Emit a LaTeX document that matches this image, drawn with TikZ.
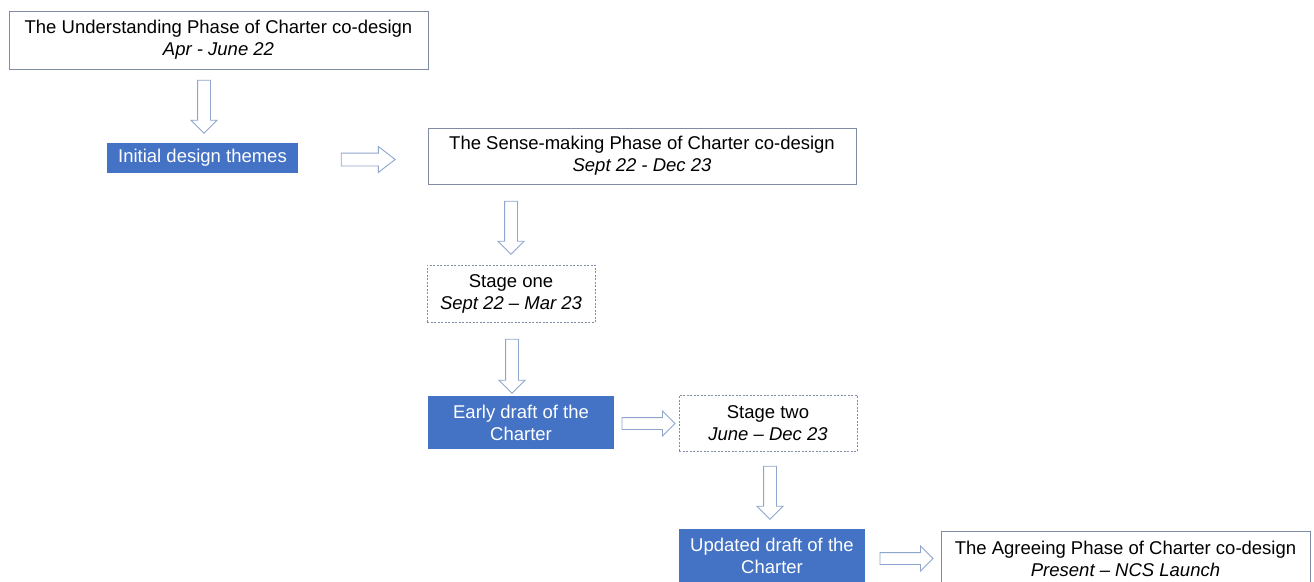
\documentclass[tikz,border=0pt]{standalone}
\usepackage{fontspec}
\setmainfont{Liberation Sans}
\usetikzlibrary{shapes.arrows}
\definecolor{boxblue}{HTML}{4472C4}
\definecolor{edgegray}{HTML}{7F8CA3}
\definecolor{arrowblue}{HTML}{8FA6CC}
\tikzset{
  txt/.style={font=\fontsize{18.5}{22}\selectfont, align=center, inner sep=0pt},
  phasebox/.style={txt, draw=edgegray, line width=0.9pt, fill=white},
  stagebox/.style={txt, draw=edgegray, line width=0.8pt, dash pattern=on 2pt off 1.5pt, fill=white},
  bluebox/.style={txt, fill=boxblue, text=white},
  blockarrow/.style={single arrow, draw=arrowblue, line width=0.9pt, fill=white,
    inner xsep=0pt, inner ysep=6pt, single arrow head extend=6.5pt,
    single arrow tip angle=90, single arrow head indent=0pt, minimum height=53pt},
  downarrow/.style={blockarrow, rotate=-90},
}
\begin{document}
\begin{tikzpicture}[x=1pt,y=-1pt]
\clip (0,0) rectangle (1314,581);
\useasboundingbox (0,0) rectangle (1314,581);
\fill[white] (0,0) rectangle (1314,581);

\node[phasebox, minimum width=419pt, minimum height=58pt] (b1) at (218.5,40)
  {The Understanding Phase of Charter co-design\\\textit{Apr - June 22}};
\node[bluebox, minimum width=191pt, minimum height=30pt] (init) at (202.5,158)
  {Initial design themes};
\node[phasebox, minimum width=428pt, minimum height=56pt] (b2) at (642,156)
  {The Sense-making Phase of Charter co-design\\\textit{Sept 22 - Dec 23}};
\node[stagebox, minimum width=168pt, minimum height=57pt] (s1) at (511,293.5)
  {Stage one\\\textit{Sept 22 – Mar 23}};
\node[bluebox, minimum width=186pt, minimum height=53pt] (early) at (521,422.5)
  {Early draft of the\\Charter};
\node[stagebox, minimum width=178pt, minimum height=56pt] (s2) at (768,423)
  {Stage two\\\textit{June – Dec 23}};
\node[bluebox, minimum width=186pt, minimum height=54pt] (upd) at (772,556)
  {Updated draft of the\\Charter};
\node[phasebox, minimum width=369pt, minimum height=56pt] (agr) at (1125.5,559)
  {The Agreeing Phase of Charter co-design\\\textit{Present – NCS Launch}};

\node[downarrow] (a1) at (204,103.5) {};
\node[blockarrow, single arrow tip angle=75, minimum height=54pt] (a2) at (364,159.5) {};
\node[downarrow] (a3) at (511,224.5) {};
\node[downarrow, minimum height=54pt] (a4) at (512,363) {};
\node[blockarrow, inner ysep=5.5pt] (a5) at (645.5,423.5) {};
\node[downarrow] (a6) at (770,489.5) {};
\node[blockarrow, inner ysep=5.5pt] (a7) at (903.5,558.5) {};
\end{tikzpicture}
\end{document}
